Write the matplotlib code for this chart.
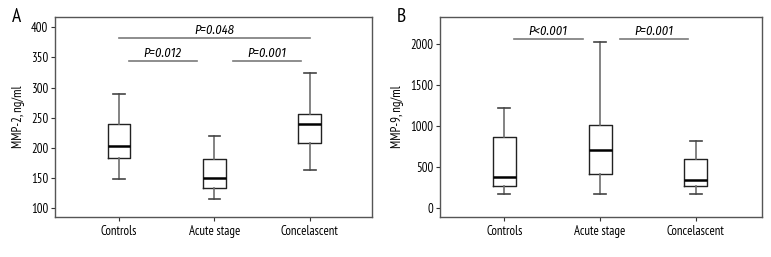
import matplotlib
matplotlib.use("Agg")
import matplotlib.pyplot as plt
from matplotlib import font_manager as fm

fonts = fm.fontManager.ttflist
names = {f.name for f in fonts}
FONT = "DejaVu Sans"
for cand in ["PT Sans Narrow", "Roboto Condensed", "Archivo Narrow", "Fira Sans Condensed",
             "Asap Condensed", "Liberation Sans Narrow"]:
    if cand in names:
        FONT = cand
        break
ITAL = FONT
for cand in ["Fira Sans Condensed", "Roboto Condensed", "Asap Condensed", "Archivo Narrow"]:
    if any(f.name == cand and f.style == "italic" for f in fonts):
        ITAL = cand
        break
plt.rcParams["font.family"] = [FONT, "DejaVu Sans"]

categories = ["Controls", "Acute stage", "Concelascent"]

# Panel A: MMP-2 (whislo, q1, med, q3, whishi)
mmp2_whislo = [148, 116, 163]
mmp2_q1 = [183, 133, 209]
mmp2_med = [203, 150, 239]
mmp2_q3 = [240, 181, 256]
mmp2_whishi = [289, 220, 324]
mmp2_yticks = [100, 150, 200, 250, 300, 350, 400]

# Panel B: MMP-9
mmp9_whislo = [170, 170, 170]
mmp9_q1 = [260, 410, 260]
mmp9_med = [370, 700, 335]
mmp9_q3 = [860, 1010, 600]
mmp9_whishi = [1215, 2030, 820]
mmp9_yticks = [0, 500, 1000, 1500, 2000]

# Significance annotations: (x1, x2, y, label)
sig_a = [(1.1, 1.82, 344, "P=0.012"), (2.19, 2.91, 344, "P=0.001"), (1.0, 3.0, 382, "P=0.048")]
sig_b = [(1.1, 1.82, 2065, "P<0.001"), (2.21, 2.92, 2065, "P=0.001")]

FS = 9.2

fig = plt.figure(figsize=(7.71, 2.57), dpi=100)
W, H = 771, 257
axA = fig.add_axes([55 / W, 1 - 217 / H, (372 - 55) / W, 200 / H])
axB = fig.add_axes([440 / W, 1 - 217 / H, (762 - 440) / W, 200 / H])

def draw(ax, lo, q1, med, q3, hi, ylim, yticks, ylabel, sigs, letter, xlim):
    stats = []
    for i in range(3):
        stats.append(dict(whislo=lo[i], q1=q1[i], med=med[i], q3=q3[i], whishi=hi[i], fliers=[], label=categories[i]))
    ax.bxp(stats, positions=[1, 2, 3], widths=0.24, showfliers=False,
           boxprops=dict(color="#222222", linewidth=1.0),
           whiskerprops=dict(color="#6e6e6e", linewidth=1.2),
           capprops=dict(color="#444444", linewidth=1.2),
           medianprops=dict(color="black", linewidth=1.8))
    ax.set_xlim(*xlim)
    ax.set_ylim(*ylim)
    ax.set_yticks(yticks)
    ax.set_xticks([1, 2, 3])
    ax.set_xticklabels(categories, fontsize=FS)
    ax.tick_params(axis="y", labelsize=FS, length=3, width=0.8, color="#333333", pad=2)
    ax.tick_params(axis="x", length=3, width=0.8, color="#333333", pad=3)
    ax.set_ylabel(ylabel, fontsize=FS, labelpad=4)
    for s in ax.spines.values():
        s.set_color("#555555")
        s.set_linewidth(1.0)
    span = ylim[1] - ylim[0]
    for x1, x2, y, lab in sigs:
        ax.plot([x1, x2], [y, y], color="#7a7a7a", linewidth=1.2)
        ax.text((x1 + x2) / 2, y + span * 0.008, lab, ha="center", va="bottom",
                fontsize=9, style="italic", family=[ITAL, "DejaVu Sans"])
    ax.text(-0.135, 1.0, letter, transform=ax.transAxes, fontsize=14, ha="left", va="center")

draw(axA, mmp2_whislo, mmp2_q1, mmp2_med, mmp2_q3, mmp2_whishi, (85.6, 417), mmp2_yticks,
     "MMP-2, ng/ml", sig_a, "A", (0.33, 3.65))
draw(axB, mmp9_whislo, mmp9_q1, mmp9_med, mmp9_q3, mmp9_whishi, (-114, 2334), mmp9_yticks,
     "MMP-9, ng/ml", sig_b, "B", (0.33, 3.69))

fig.savefig("out.png", dpi=100)
